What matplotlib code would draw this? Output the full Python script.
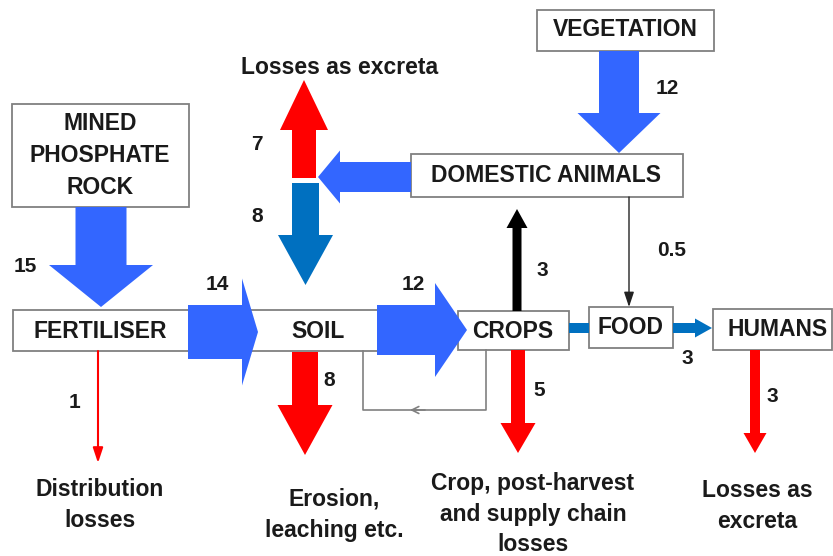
import matplotlib
matplotlib.use("Agg")
import matplotlib.pyplot as plt
from matplotlib.patches import Rectangle, FancyArrow

plt.rcParams['font.family'] = ['Liberation Sans', 'DejaVu Sans']

# ---- data ----
node_labels = ["VEGETATION", "DOMESTIC ANIMALS", "MINED\nPHOSPHATE\nROCK",
               "FERTILISER", "SOIL", "CROPS", "FOOD", "HUMANS"]
flow_labels = ["15", "12", "7", "8", "14", "12", "8", "1", "3", "0.5", "5", "3", "3"]
loss_labels = ["Losses as excreta", "Distribution\nlosses", "Erosion,\nleaching etc.",
               "Crop, post-harvest\nand supply chain\nlosses", "Losses as\nexcreta"]

BLUE = '#3366FF'
DBLUE = '#0070C0'
RED = '#FF0000'
TXT = '#1a1a1a'
EDGE = '#808080'

fig = plt.figure(figsize=(8.33, 5.56), dpi=100)
ax = fig.add_axes([0, 0, 1, 1])
ax.set_xlim(0, 833)
ax.set_ylim(556, 0)
ax.axis('off')


def box(x0, y0, x1, y1, z=1):
    ax.add_patch(Rectangle((x0, y0), x1 - x0, y1 - y0, facecolor='white',
                           edgecolor=EDGE, lw=1.3, zorder=z))


def barrow(x0, y0, x1, y1, w, hw, hl, color, z=3):
    ax.add_patch(FancyArrow(x0, y0, x1 - x0, y1 - y0, width=w, head_width=hw,
                            head_length=hl, length_includes_head=True,
                            facecolor=color, edgecolor='none', zorder=z))


def txt(x, y, s, size=16.5, ls=1.25):
    ax.text(x, y, s, fontsize=size, fontweight='bold', color=TXT,
            ha='center', va='center', zorder=10, linespacing=ls)


# boxes
box(537, 10, 714, 51)
box(411, 154, 683, 197)
box(12, 104, 189, 207)
box(13, 310, 380, 351)
box(458, 311, 569, 350)
box(589, 307, 673, 348)
box(713, 309, 832, 350)

# block arrows
barrow(101, 207, 101, 307, 51, 104, 42, BLUE)
barrow(619, 51, 619, 153, 40, 83, 40, BLUE)
barrow(411, 177, 318, 177, 30, 53, 22, BLUE)
barrow(304, 178, 304, 80, 24, 48, 50, RED)
barrow(305.5, 183, 305.5, 285, 27, 55, 50, DBLUE)
barrow(188, 332, 258, 332, 54, 107, 16, BLUE)
barrow(377, 330, 467, 330, 50, 94, 32, BLUE)
barrow(305, 352, 305, 455, 26, 55, 50, RED)
barrow(518, 350, 518, 453, 14, 35, 30, RED)
barrow(755, 350, 755, 453, 10, 23, 20, RED)
barrow(517, 311, 517, 209, 9, 21, 19, 'black')
barrow(673, 328, 712, 328, 10, 19, 17, DBLUE)
ax.add_patch(Rectangle((569, 323), 20, 10, facecolor=DBLUE, edgecolor='none', zorder=3))

# thin arrows
ax.annotate('', xy=(98, 463), xytext=(98, 351),
            arrowprops=dict(arrowstyle='-|>,head_length=0.9,head_width=0.3',
                            color=RED, lw=1.5, shrinkA=0, shrinkB=0), zorder=3)
ax.annotate('', xy=(629, 307), xytext=(629, 197),
            arrowprops=dict(arrowstyle='-|>,head_length=0.9,head_width=0.3',
                            color='#222222', lw=1.0, shrinkA=0, shrinkB=0), zorder=3)
# feedback loop soil <- crops
ax.plot([486, 486, 363, 363], [350, 410, 410, 351], color=EDGE, lw=1.2, zorder=2)
ax.annotate('', xy=(410, 410), xytext=(425, 410),
            arrowprops=dict(arrowstyle='->,head_length=0.5,head_width=0.25',
                            color=EDGE, lw=1.2, shrinkA=0, shrinkB=0), zorder=2)

# node labels
txt(625, 30, node_labels[0])
txt(546, 176, node_labels[1])
txt(100, 155, node_labels[2], ls=1.5)
txt(100, 331, node_labels[3])
txt(318, 332, node_labels[4])
txt(513, 331, node_labels[5])
txt(631, 327, node_labels[6])
txt(778, 330, node_labels[7])

# flow labels
fs = 15
txt(25, 267, flow_labels[0], size=fs)
txt(667, 89, flow_labels[1], size=fs)
txt(257, 145, flow_labels[2], size=fs)
txt(257, 217, flow_labels[3], size=fs)
txt(217, 285, flow_labels[4], size=fs)
txt(413, 284, flow_labels[5], size=fs)
txt(329, 380, flow_labels[6], size=fs)
txt(75, 403, flow_labels[7], size=fs)
txt(542, 270, flow_labels[8], size=fs)
txt(672, 250, flow_labels[9], size=fs)
txt(539, 390, flow_labels[10], size=fs)
txt(687, 358, flow_labels[11], size=fs)
txt(772, 397, flow_labels[12], size=fs)

# loss labels
txt(340, 68, loss_labels[0])
txt(100, 505, loss_labels[1], ls=1.45)
txt(334, 515, loss_labels[2], ls=1.45)
txt(533, 514, loss_labels[3], ls=1.4)
txt(757, 506, loss_labels[4], ls=1.4)

fig.savefig('out.png', dpi=100, facecolor='white')
